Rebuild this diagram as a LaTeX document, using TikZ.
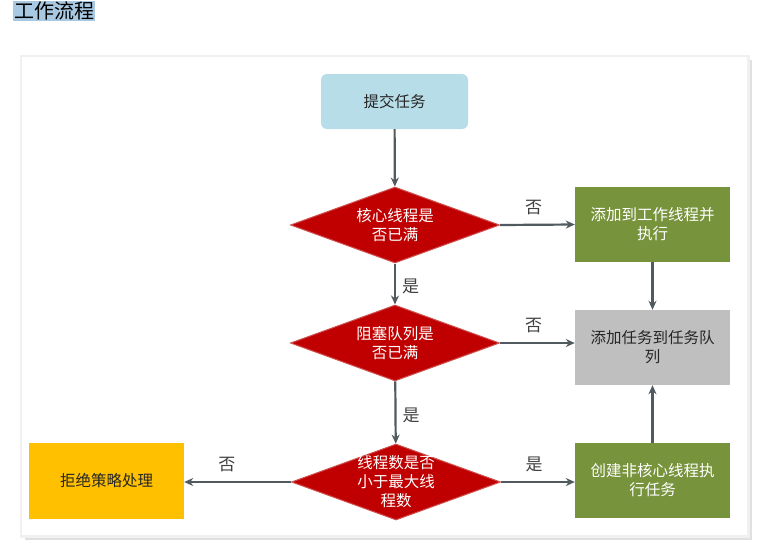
\documentclass[tikz,border=0pt]{standalone}
\usepackage{fontspec}
\newfontfamily\cjk{Noto Sans CJK SC}
\usetikzlibrary{shapes.geometric,arrows.meta}
\definecolor{lblue}{HTML}{B7DDE8}
\definecolor{dred}{HTML}{C00000}
\definecolor{redb}{HTML}{D0504D}
\definecolor{ogreen}{HTML}{77933C}
\definecolor{lgray}{HTML}{BFBFBF}
\definecolor{gold}{HTML}{FFC000}
\definecolor{arr}{HTML}{505A5F}
\definecolor{titlebg}{HTML}{A9C9E2}
\begin{document}
\begin{tikzpicture}[x=1pt,y=-1pt,
  every node/.style={font=\cjk\fontsize{15.5}{19}\selectfont, align=center, inner sep=0pt},
  startbox/.style={draw=none, fill=lblue, rounded corners=6pt, minimum width=147pt, minimum height=55pt, text=black!85},
  decision/.style={diamond, draw=redb, line width=1pt, fill=dred, minimum width=209pt, minimum height=76pt, aspect=2.76, inner sep=0pt},
  dtext/.style={text=white, font=\cjk\fontsize{15.5}{19}\selectfont, align=center},
  greenbox/.style={fill=ogreen, text=white, minimum width=155pt, minimum height=75pt, text width=148pt},
  graybox/.style={fill=lgray, text=black!85, minimum width=155pt, minimum height=75pt, text width=148pt},
  goldbox/.style={fill=gold, text=black!85, minimum width=155pt, minimum height=76pt},
  conn/.style={draw=arr, line width=2.2pt, -{Stealth[length=9pt,width=8pt]}},
  lbl/.style={font=\cjk\fontsize{17}{19}\selectfont, text=black!75}
]
\useasboundingbox (0,0) rectangle (758,547);
% panel with shadow
\fill[black!12] (25,60) rectangle (752,540);
\fill[black!6] (20,55) rectangle (750,538);
\fill[white] (22,57) rectangle (747,535);
% title
\node[fill=titlebg, inner sep=1pt, font=\cjk\fontsize{20}{22}\selectfont, anchor=west] (title) at (13,11) {工作流程};
% nodes
\node[startbox] (submit) at (394.5,101.5) {提交任务};
\node[decision, label={[dtext]center:核心线程是\\否已满}] (d1) at (395,225) {};
\node[greenbox] (g1) at (652.5,224.5) {添加到工作线程并\\执行};
\node[decision, label={[dtext]center:阻塞队列是\\否已满}] (d2) at (395,343) {};
\node[graybox] (q) at (652.5,347.5) {添加任务到任务队\\列};
\node[decision, label={[dtext]center:线程数是否\\小于最大线\\程数}] (d3) at (396,482) {};
\node[greenbox] (g3) at (652.5,480.5) {创建非核心线程执\\行任务};
\node[goldbox] (rej) at (106.5,481) {拒绝策略处理};
% connectors
\draw[conn] (submit) -- (d1);
\draw[conn] (d1) -- node[lbl, pos=0.55, right=6pt] {是} (d2);
\draw[conn] (d2) -- node[lbl, pos=0.55, right=6pt] {是} (d3);
\draw[conn] (d1.east) -- node[lbl, pos=0.45, above=9pt] {否} (g1.west);
\draw[conn] (d2.east) -- node[lbl, pos=0.45, above=9pt] {否} (d2.east -| q.west);
\draw[conn] (d3.east) -- node[lbl, pos=0.45, above=9pt] {是} (d3.east -| g3.west);
\draw[conn] (d3.west) -- node[lbl, pos=0.6, above=9pt] {否} (d3.west -| rej.east);
\draw[conn] (g1) -- (q);
\draw[conn] (g3) -- (q);
\end{tikzpicture}
\end{document}
